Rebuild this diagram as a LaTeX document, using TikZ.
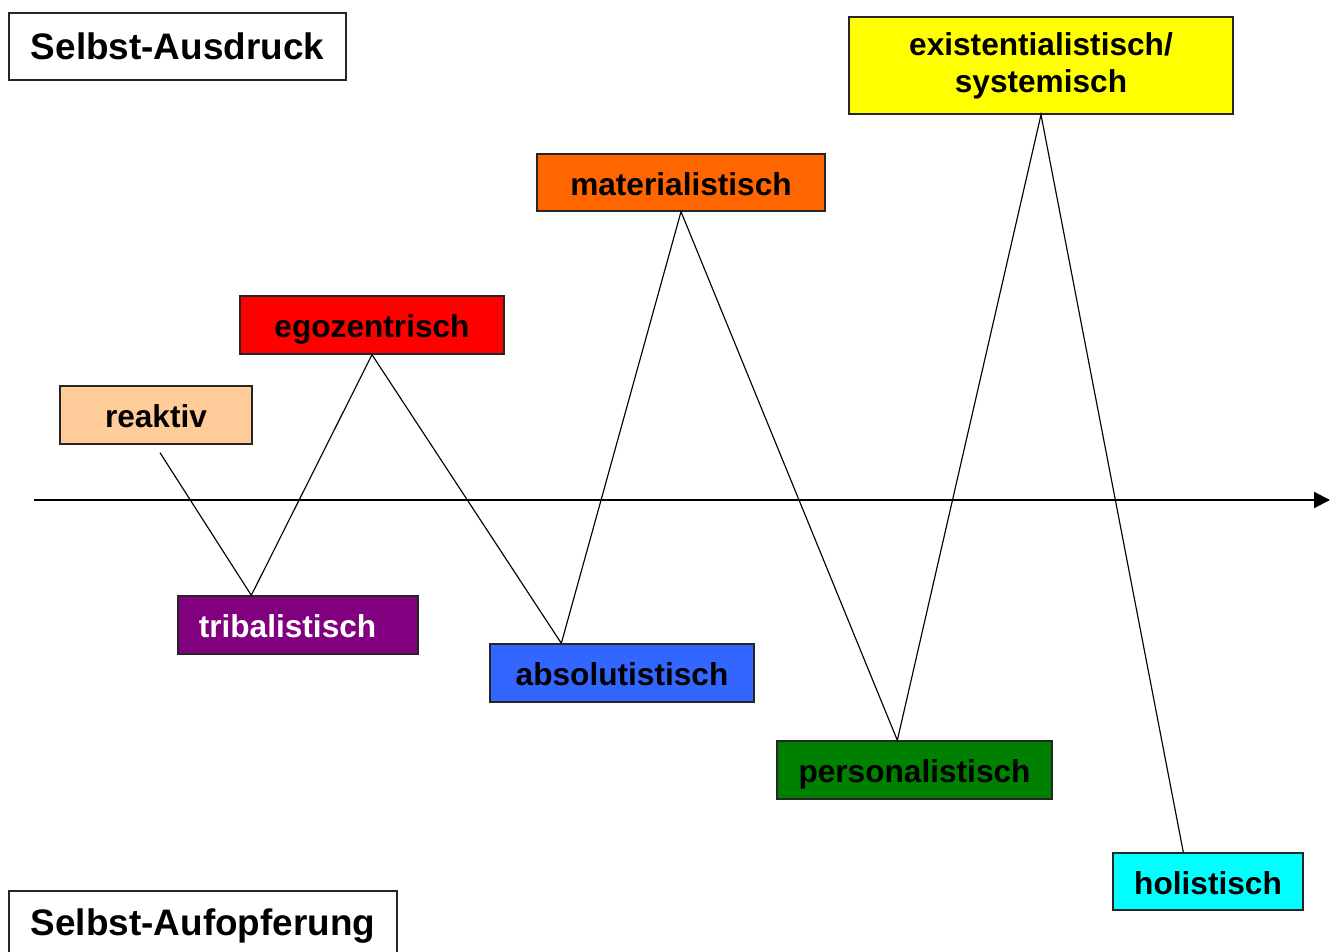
\documentclass[tikz,border=0pt]{standalone}
\usepackage{fontspec}
\setmainfont{Liberation Sans}
\usetikzlibrary{arrows.meta}

\begin{document}
\begin{tikzpicture}[x=0.02cm,y=-0.02cm]
   \tikzset{Box/.style={draw=black!85, line width=0.8pt, inner sep=0pt,
                        font=\fontsize{18}{21}\selectfont\bfseries, align=center}}
   \tikzset{LevelBox/.style={Box, text height=15.5pt, text depth=1pt}}
   \tikzset{BigBox/.style={Box, fill=white, font=\fontsize{21}{25}\selectfont\bfseries}}
   \tikzset{Link/.style={line width=0.65pt}}
   \useasboundingbox (0,0) rectangle (1338,952);
   % the two poles
   \node[BigBox, minimum width=6.74cm, minimum height=1.34cm] (ausdruck) at (177.5,46.5) {Selbst-Ausdruck};
   \node[BigBox, minimum width=7.76cm, minimum height=1.6cm] (aufopferung) at (203,931) {\raisebox{0.34cm}{Selbst-Aufopferung}};
   % the levels
   \node[LevelBox, fill={rgb,255:red,255;green,204;blue,153}, minimum width=3.84cm, minimum height=1.16cm] (reaktiv) at (156,415) {reaktiv};
   \node[LevelBox, fill={rgb,255:red,128;green,0;blue,128}, text=white, minimum width=4.8cm, minimum height=1.16cm] (tribal) at (298,625) {tribalistisch\hspace*{0.42cm}};
   \node[LevelBox, fill={rgb,255:red,255;green,0;blue,0}, minimum width=5.28cm, minimum height=1.16cm] (ego) at (372,325) {egozentrisch};
   \node[LevelBox, fill={rgb,255:red,51;green,102;blue,255}, minimum width=5.28cm, minimum height=1.16cm] (absolut) at (622,673) {absolutistisch};
   \node[LevelBox, fill={rgb,255:red,255;green,102;blue,0}, minimum width=5.76cm, minimum height=1.14cm] (material) at (681,182.5) {materialistisch};
   \node[LevelBox, fill={rgb,255:red,0;green,128;blue,0}, minimum width=5.5cm, minimum height=1.16cm] (personal) at (914.5,770) {personalistisch};
   \node[Box, fill={rgb,255:red,255;green,255;blue,0}, minimum width=7.68cm, minimum height=1.94cm] (exist) at (1041,65.5) {existentialistisch/\\systemisch};
   \node[LevelBox, fill={rgb,255:red,0;green,255;blue,255}, minimum width=3.8cm, minimum height=1.14cm] (holist) at (1208,881.5) {holistisch};
   % axis
   \coordinate (a0) at (34,500);
   \coordinate (a1) at (1330,500);
   \draw[line width=1.2pt, -{Triangle[length=9pt,width=9pt]}] (a0) -- (a1);
   % zigzag
   \coordinate (r0) at ([shift={(4,8)}]reaktiv.south);
   \draw[Link] (r0) -- ([shift={(74,0)}]tribal.north west)
                    -- (ego.south)
                    -- ([shift={(72,0)}]absolut.north west)
                    -- (material.south)
                    -- ([shift={(121,0)}]personal.north west)
                    -- (exist.south)
                    -- ([shift={(71,0)}]holist.north west);
\end{tikzpicture}
\end{document}
